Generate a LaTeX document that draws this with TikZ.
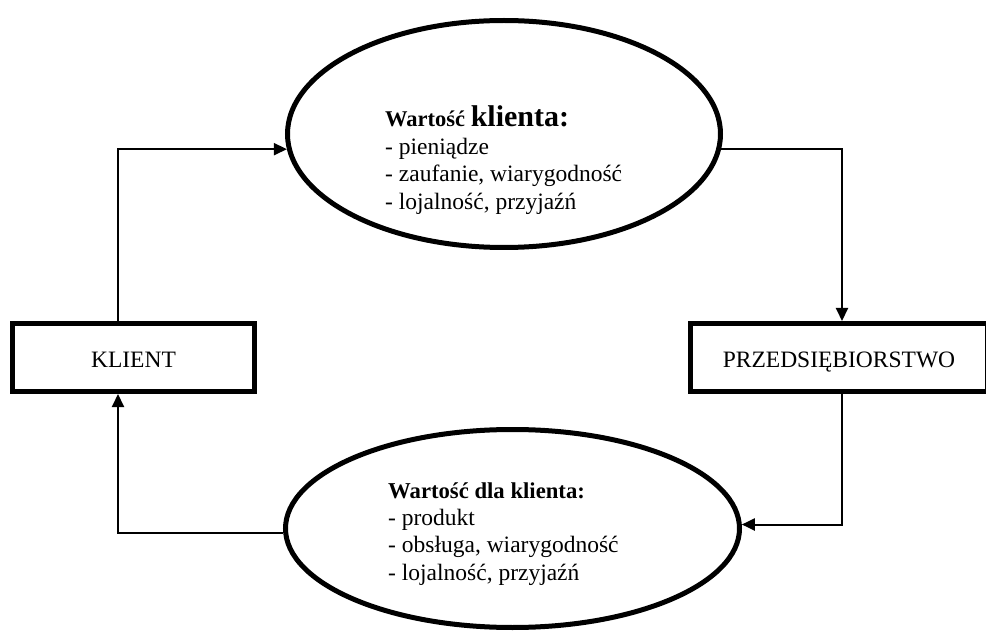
\documentclass[tikz,border=0pt]{standalone}
\usepackage{fontspec}
\setmainfont{Liberation Serif}
\usetikzlibrary{shapes.geometric,arrows.meta}
\begin{document}
\begin{tikzpicture}[x=1pt,y=-1pt,
  ell/.style={draw,ellipse,line width=5pt,inner sep=0pt},
  box/.style={draw,rectangle,line width=5pt,inner sep=0pt,text height=19pt,text depth=0pt,font=\fontsize{23.5}{27.5}\selectfont},
  arr/.style={line width=2pt,-{Triangle[length=13pt,width=12pt]}},
  txt/.style={anchor=base west,inner sep=0pt,font=\fontsize{23.5}{27.5}\selectfont}]
\useasboundingbox (0,0) rectangle (986,631);
\node[ell,minimum width=433pt,minimum height=227pt] (top) at (504,134) {};
\node[ell,minimum width=454pt,minimum height=198pt] (bot) at (512.5,528.5) {};
\node[box,minimum width=242pt,minimum height=68pt] (klient) at (133.5,357.5) {KLIENT};
\node[box,minimum width=297pt,minimum height=68pt] (przed) at (839,357.5) {PRZEDSIĘBIORSTWO};
\coordinate (c1) at (118,0);
\coordinate (c2) at (842,0);
\draw[arr] (klient.north -| c1) |- (top.184);
\draw[arr] (top.-4) -| (przed.north -| c2);
\draw[arr] (przed.south -| c2) |- (bot.1);
\draw[arr] (bot.181) -| (klient.south -| c1);
\node[txt] (t1) at (385,127) {\textbf{\fontsize{22.5}{27.5}\selectfont Wartość {\fontsize{30}{27.5}\selectfont klienta:}}};
\node[txt] (t2) at (385,155) {- pieniądze};
\node[txt] (t3) at (385,182) {- zaufanie, wiarygodność};
\node[txt] (t4) at (385,210) {- lojalność, przyjaźń};
\node[txt] (b1) at (388,498) {\textbf{\fontsize{22.7}{27.5}\selectfont Wartość dla klienta:}};
\node[txt] (b2) at (388,525) {- produkt};
\node[txt] (b3) at (388,552) {- obsługa, wiarygodność};
\node[txt] (b4) at (388,580) {- lojalność, przyjaźń};
\end{tikzpicture}
\end{document}
